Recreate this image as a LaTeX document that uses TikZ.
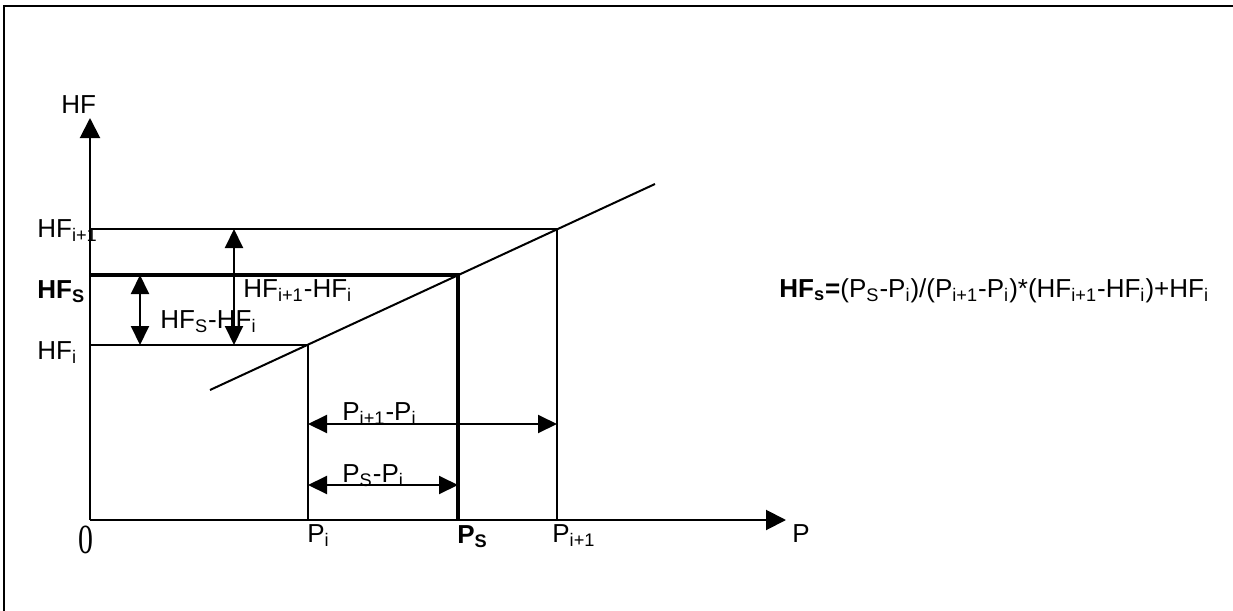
\documentclass[tikz,border=0pt]{standalone}
\usepackage{fontspec}
\setmainfont{Liberation Sans}
\newfontfamily\zerofont{Liberation Serif}
\usepackage{tikz}
\usetikzlibrary{arrows.meta}
\newcommand{\sub}[1]{\textsubscript{#1}}

\begin{document}
\begin{tikzpicture}[x=0.5pt, y=-0.5pt,
		font=\fontsize{13}{16}\selectfont,
		linia/.style={line width=1pt},
		gruba/.style={line width=2pt},
		os/.style={line width=1pt, -{Triangle[length=10pt, width=10pt]}},
		wymiar/.style={line width=1pt, {Triangle[length=9.5pt, width=9pt]}-{Triangle[length=9.5pt, width=9pt]}},
		opis/.style={anchor=base west, inner sep=0pt}]
		\useasboundingbox (0,0) rectangle (1233,611);
		\clip (0,0) rectangle (1233,611);
		% Ramka
		\draw[line width=1.2pt] (4,6) rectangle (1250,630);
		
		% Punkty charakterystyczne
		\coordinate (O) at (90,520);
		\coordinate (Pi) at (308,520);
		\coordinate (Ps) at (458,520);
		\coordinate (Pn) at (557,520);
		\coordinate (A) at (308,345);
		\coordinate (S) at (458,275);
		\coordinate (B) at (557,229);
		\coordinate (yend) at (90,118);
		\coordinate (xend) at (786,520);
		\coordinate (L1) at (210,390);
		\coordinate (L2) at (655,184);
		
		% Osie
		\draw[os] (O) -- (yend);
		\draw[os] (O) -- (xend);
		
		% Linie pomocnicze i prosta
		\draw[linia] (O |- A) -- (A) -- (Pi);
		\draw[linia] (O |- B) -- (B) -- (Pn);
		\draw[gruba] (O |- S) -- (S) -- (Ps);
		\draw[linia] (L1) -- (L2);
		
		% Wymiary
		\coordinate (d1) at (140,0);
		\coordinate (d2) at (234,0);
		\coordinate (d3) at (0,424);
		\coordinate (d4) at (0,485);
		\draw[wymiar] (d1 |- S) -- (d1 |- A);
		\draw[wymiar] (d2 |- B) -- (d2 |- A);
		\draw[wymiar] (A |- d3) -- (B |- d3);
		\draw[wymiar] (A |- d4) -- (S |- d4);
		
		% Opisy
		\node[opis] (lHF) at (61,113) {HF};
		\node[opis] (lHFn) at (37,237) {HF\sub{i+1}};
		\node[opis] (lHFs) at (37,298) {\textbf{HF\sub{S}}};
		\node[opis] (lHFi) at (37,359) {HF\sub{i}};
		\node[opis] (lHFsHFi) at (160,328) {HF\sub{S}-HF\sub{i}};
		\node[opis] (lHFnHFi) at (243,297) {HF\sub{i+1}-HF\sub{i}};
		\node[opis] (lPnPi) at (342,420) {P\sub{i+1}-P\sub{i}};
		\node[opis] (lPsPi) at (342,482) {P\sub{S}-P\sub{i}};
		\node[opis] (lPi) at (307,542) {P\sub{i}};
		\node[opis] (lPs) at (457,543) {\textbf{P\sub{S}}};
		\node[opis] (lPn) at (552,542) {P\sub{i+1}};
		\node[opis] (lP) at (792,542) {P};
		\node[opis] (l0) at (78,553) {\scalebox{0.72}[1]{\zerofont\fontsize{20.7}{24}\selectfont 0}};
		
		% Wzor
		\node[opis] (wzor) at (779,297) {\textbf{HF\sub{s}=}(P\sub{S}-P\sub{i})/(P\sub{i+1}-P\sub{i})*(HF\sub{i+1}-HF\sub{i})+HF\sub{i}};
\end{tikzpicture}
\end{document}
